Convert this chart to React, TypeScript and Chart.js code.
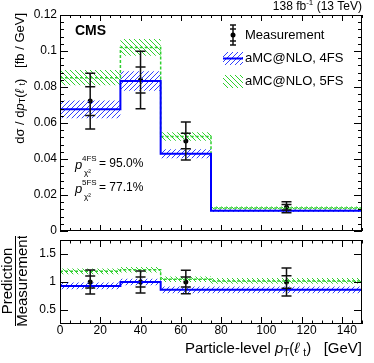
import React, { useEffect, useRef } from "react";
import { Chart, registerables } from "chart.js";

Chart.register(...registerables);

// ---------------- data ----------------
const binEdges = [0, 30, 50, 75, 150];
const binCenters = [15, 40, 62.5, 112.5];

const measValues = [0.0722, 0.0839, 0.05, 0.0132];
const measTotErr = [0.0155, 0.016, 0.0105, 0.003];
const measStatErr = [0.008, 0.0072, 0.0043, 0.0015];

const pred4FS = [0.0676, 0.0833, 0.0429, 0.0113];
const unc4FS = [0.0049, 0.0054, 0.0025, 0.0008];
const pred5FS = [0.0852, 0.102, 0.0525, 0.0128];
const unc5FS = [0.0042, 0.0047, 0.0024, 0.0008];

const ratioMeas = [1, 1, 1, 1];
const ratioTotErr = [0.215, 0.195, 0.21, 0.25];
const ratioStatErr = [0.105, 0.09, 0.09, 0.11];
const ratio4FS = [0.93, 1.0, 0.86, 0.86];
const ratioUnc4FS = [0.06, 0.06, 0.06, 0.06];
const ratio5FS = [1.19, 1.22, 1.05, 1.02];
const ratioUnc5FS = [0.05, 0.05, 0.05, 0.05];

const xTicks = [0, 20, 40, 60, 80, 100, 120, 140];
const xTickLabels = ["0", "20", "40", "60", "80", "100", "120", "140"];
const topYTicks = [0, 0.02, 0.04, 0.06, 0.08, 0.1, 0.12];
const topYTickLabels = ["0", "0.02", "0.04", "0.06", "0.08", "0.1", "0.12"];
const ratioYTicks = [0.5, 1, 1.5];
const ratioYTickLabels = ["0.5", "1", "1.5"];

const legendLabels = ["Measurement", "aMC@NLO, 4FS", "aMC@NLO, 5FS"];
const chi2Sups = ["4FS", "5FS"];
const chi2Values = ["= 95.0%", "= 77.1%"];

// ---------------- helpers ----------------
const FONT = "'Liberation Sans', Arial, Helvetica, sans-serif";
const fnt = (size: number, style = "") => `${style} ${size}px ${FONT}`.trim();

type Run = { t: string; f: string; dy?: number };

function runsWidth(ctx: CanvasRenderingContext2D, runs: Run[]) {
  let w = 0;
  for (const r of runs) {
    ctx.font = r.f;
    w += ctx.measureText(r.t).width;
  }
  return w;
}
function drawRuns(ctx: CanvasRenderingContext2D, runs: Run[], x: number, y: number) {
  let cx = x;
  ctx.textAlign = "left";
  ctx.textBaseline = "middle";
  for (const r of runs) {
    ctx.font = r.f;
    ctx.fillText(r.t, cx, y + (r.dy || 0));
    cx += ctx.measureText(r.t).width;
  }
}

function stepPoints(values: number[]) {
  return binEdges.map((x, i) => ({ x, y: values[Math.min(i, values.length - 1)] }));
}
function shifted(values: number[], unc: number[], sign: number) {
  return values.map((v, i) => v + sign * unc[i]);
}

function makeHatch(color: string, dir: number) {
  const s = 5;
  const c = document.createElement("canvas");
  c.width = s;
  c.height = s;
  const g = c.getContext("2d")!;
  g.strokeStyle = color;
  g.lineWidth = 1;
  g.beginPath();
  if (dir > 0) {
    g.moveTo(-1, s + 1); g.lineTo(s + 1, -1);
    g.moveTo(-1, 1); g.lineTo(1, -1);
    g.moveTo(s - 1, s + 1); g.lineTo(s + 1, s - 1);
  } else {
    g.moveTo(-1, -1); g.lineTo(s + 1, s + 1);
    g.moveTo(-1, s - 1); g.lineTo(1, s + 1);
    g.moveTo(s - 1, -1); g.lineTo(s + 1, 1);
  }
  g.stroke();
  return g.createPattern(c, "repeat")!;
}

const BLUE = "#0000ff";
const GREEN = "#2fcf2f";

function drawFrameAndTicks(
  chart: any,
  o: {
    yTicks: number[];
    yMinorStep: number;
    yMin: number;
    yMax: number;
    yMajorLen: number;
    yMinorLen: number;
    xMajorLen: number;
    xMinorLen: number;
  }
) {
  const { ctx, chartArea: a, scales } = chart;
  const xs = scales.x;
  const ys = scales.y;
  ctx.save();
  ctx.strokeStyle = "#000";
  ctx.lineWidth = 1;
  ctx.strokeRect(a.left + 0.5, a.top + 0.5, a.right - a.left - 1, a.bottom - a.top - 1);
  ctx.beginPath();
  for (let v = 0; v <= 150 + 1e-9; v += 5) {
    const px = Math.round(xs.getPixelForValue(v)) + 0.5;
    const major = xTicks.some((t) => Math.abs(t - v) < 1e-6);
    const len = major ? o.xMajorLen : o.xMinorLen;
    ctx.moveTo(px, a.bottom);
    ctx.lineTo(px, a.bottom - len);
    ctx.moveTo(px, a.top);
    ctx.lineTo(px, a.top + len);
  }
  for (let v = o.yMin; v <= o.yMax + 1e-9; v += o.yMinorStep) {
    const py = Math.round(ys.getPixelForValue(v)) + 0.5;
    const major = o.yTicks.some((t) => Math.abs(t - v) < 1e-6);
    const len = major ? o.yMajorLen : o.yMinorLen;
    ctx.moveTo(a.left, py);
    ctx.lineTo(a.left + len, py);
    ctx.moveTo(a.right, py);
    ctx.lineTo(a.right - len, py);
  }
  ctx.stroke();
  ctx.restore();
}

function drawErrorBars(chart: any, vals: number[], tot: number[], stat: number[]) {
  const { ctx, scales } = chart;
  const xs = scales.x;
  const ys = scales.y;
  ctx.save();
  ctx.strokeStyle = "#111";
  ctx.lineWidth = 1.5;
  ctx.beginPath();
  binCenters.forEach((c, i) => {
    const px = xs.getPixelForValue(c);
    const yHi = ys.getPixelForValue(vals[i] + tot[i]);
    const yLo = ys.getPixelForValue(vals[i] - tot[i]);
    const sHi = ys.getPixelForValue(vals[i] + stat[i]);
    const sLo = ys.getPixelForValue(vals[i] - stat[i]);
    ctx.moveTo(px, yHi);
    ctx.lineTo(px, yLo);
    for (const yy of [yHi, yLo, sHi, sLo]) {
      ctx.moveTo(px - 5, yy);
      ctx.lineTo(px + 5, yy);
    }
  });
  ctx.stroke();
  ctx.restore();
}

function histDatasets(
  values4: number[], u4: number[], values5: number[], u5: number[],
  pat4: CanvasPattern, pat5: CanvasPattern
) {
  const none = "rgba(0,0,0,0)";
  return [
    {
      label: "4FS",
      data: stepPoints(values4),
      stepped: true,
      borderColor: BLUE,
      borderWidth: 2,
      pointRadius: 0,
      fill: false,
    },
    {
      label: "5FS",
      data: stepPoints(values5),
      stepped: true,
      borderColor: GREEN,
      borderWidth: 1.5,
      borderDash: [3, 2],
      pointRadius: 0,
      fill: false,
    },
    {
      label: "4FS up",
      data: stepPoints(shifted(values4, u4, 1)),
      stepped: true,
      borderColor: none,
      borderWidth: 0,
      pointRadius: 0,
      fill: "+1",
      backgroundColor: pat4,
    },
    {
      label: "4FS down",
      data: stepPoints(shifted(values4, u4, -1)),
      stepped: true,
      borderColor: none,
      borderWidth: 0,
      pointRadius: 0,
      fill: false,
    },
    {
      label: "5FS up",
      data: stepPoints(shifted(values5, u5, 1)),
      stepped: true,
      borderColor: none,
      borderWidth: 0,
      pointRadius: 0,
      fill: "+1",
      backgroundColor: pat5,
    },
    {
      label: "5FS down",
      data: stepPoints(shifted(values5, u5, -1)),
      stepped: true,
      borderColor: none,
      borderWidth: 0,
      pointRadius: 0,
      fill: false,
    },
  ];
}

function hiddenAxis(min: number, max: number) {
  return {
    type: "linear" as const,
    min,
    max,
    ticks: { display: false },
    grid: { display: false, drawTicks: false },
    border: { display: false },
    title: { display: false },
  };
}

export default function App() {
  const topRef = useRef<HTMLCanvasElement>(null);
  const botRef = useRef<HTMLCanvasElement>(null);

  useEffect(() => {
    const pat4 = makeHatch("#3040ff", 1);
    const pat5 = makeHatch("#30d030", -1);

    const topPlugin = {
      id: "topDeco",
      afterDatasetsDraw(chart: any) {
        drawErrorBars(chart, measValues, measTotErr, measStatErr);
      },
      afterDraw(chart: any) {
        const ctx: CanvasRenderingContext2D = chart.ctx;
        const ys = chart.scales.y;
        drawFrameAndTicks(chart, {
          yTicks: topYTicks, yMinorStep: 0.004, yMin: 0, yMax: 0.12,
          yMajorLen: 8, yMinorLen: 4, xMajorLen: 6, xMinorLen: 3,
        });
        ctx.save();
        ctx.fillStyle = "#000";
        // y tick labels
        ctx.font = fnt(12);
        ctx.textAlign = "right";
        ctx.textBaseline = "middle";
        topYTicks.forEach((v, i) => ctx.fillText(topYTickLabels[i], 57, ys.getPixelForValue(v)));
        // lumi label
        const lumi: Run[] = [
          { t: "138 fb", f: fnt(12) },
          { t: "-1", f: fnt(8), dy: -4 },
          { t: " (13 TeV)", f: fnt(12) },
        ];
        drawRuns(ctx, lumi, 362 - runsWidth(ctx, lumi), 7);
        // CMS
        ctx.font = fnt(14, "bold");
        ctx.textAlign = "left";
        ctx.textBaseline = "middle";
        ctx.fillText("CMS", 75, 31);
        // chi2 probabilities
        const chiY = [164, 188];
        chiY.forEach((y, i) => {
          ctx.textAlign = "left";
          ctx.textBaseline = "middle";
          ctx.font = fnt(13, "italic");
          ctx.fillText("p", 75, y + 1);
          ctx.font = fnt(8);
          ctx.fillText(chi2Sups[i], 82, y - 5);
          ctx.fillText("\u03c7\u00b2", 84, y + 9);
          ctx.font = fnt(12);
          ctx.fillText(chi2Values[i], 99, y);
        });
        // legend
        ctx.strokeStyle = "#111";
        ctx.lineWidth = 1.5;
        ctx.beginPath();
        ctx.moveTo(233, 25); ctx.lineTo(233, 45);
        for (const yy of [25, 29, 41, 45]) { ctx.moveTo(230, yy); ctx.lineTo(236, yy); }
        ctx.stroke();
        ctx.fillStyle = "#000";
        ctx.beginPath();
        ctx.arc(233, 35, 2.5, 0, Math.PI * 2);
        ctx.fill();
        ctx.fillStyle = pat4;
        ctx.fillRect(223, 52, 20, 13);
        ctx.strokeStyle = BLUE;
        ctx.lineWidth = 2;
        ctx.beginPath();
        ctx.moveTo(223, 58.5); ctx.lineTo(243, 58.5);
        ctx.stroke();
        ctx.fillStyle = pat5;
        ctx.fillRect(223, 75, 20, 13);
        ctx.fillStyle = "#000";
        ctx.font = fnt(13);
        ctx.textAlign = "left";
        ctx.textBaseline = "middle";
        ctx.fillText(legendLabels[0], 245, 35);
        ctx.fillText(legendLabels[1], 245, 58);
        ctx.fillText(legendLabels[2], 245, 81);
        // y title (rotated)
        const yt: Run[] = [
          { t: "d\u03c3 / d", f: fnt(13) },
          { t: "p", f: fnt(13, "italic") },
          { t: "T", f: fnt(9), dy: 3 },
          { t: "(", f: fnt(13) },
          { t: "\u2113", f: fnt(13, "italic") },
          { t: " ", f: fnt(13) },
          { t: "t", f: fnt(9), dy: 3 },
          { t: ")", f: fnt(13) },
          { t: "   [fb / GeV]", f: fnt(13) },
        ];
        ctx.translate(20, 13);
        ctx.rotate(-Math.PI / 2);
        drawRuns(ctx, yt, -runsWidth(ctx, yt), 0);
        ctx.restore();
      },
    };

    const botPlugin = {
      id: "botDeco",
      afterDatasetsDraw(chart: any) {
        drawErrorBars(chart, ratioMeas, ratioTotErr, ratioStatErr);
      },
      afterDraw(chart: any) {
        const ctx: CanvasRenderingContext2D = chart.ctx;
        const xs = chart.scales.x;
        const ys = chart.scales.y;
        drawFrameAndTicks(chart, {
          yTicks: ratioYTicks, yMinorStep: 0.5, yMin: 0.5, yMax: 1.5,
          yMajorLen: 8, yMinorLen: 4, xMajorLen: 7, xMinorLen: 3.5,
        });
        ctx.save();
        ctx.fillStyle = "#000";
        ctx.font = fnt(12);
        ctx.textAlign = "right";
        ctx.textBaseline = "middle";
        ratioYTicks.forEach((v, i) => ctx.fillText(ratioYTickLabels[i], 56, ys.getPixelForValue(v)));
        ctx.textAlign = "center";
        xTicks.forEach((v, i) => {
          const lab = xTickLabels[i];
          const off = lab.length > 2 ? 5 : 0;
          ctx.fillText(lab, xs.getPixelForValue(v) + off, 95);
        });
        // x title
        const xt: Run[] = [
          { t: "Particle-level ", f: fnt(15) },
          { t: "p", f: fnt(15, "italic") },
          { t: "T", f: fnt(10), dy: 4 },
          { t: "(", f: fnt(15) },
          { t: "\u2113", f: fnt(15, "italic") },
          { t: " ", f: fnt(15) },
          { t: "t", f: fnt(10), dy: 4 },
          { t: ")", f: fnt(15) },
          { t: "   [GeV]", f: fnt(15) },
        ];
        drawRuns(ctx, xt, 362 - runsWidth(ctx, xt), 113);
        // y title fraction
        ctx.translate(0, 45);
        ctx.rotate(-Math.PI / 2);
        ctx.font = fnt(15);
        ctx.textAlign = "center";
        ctx.textBaseline = "middle";
        ctx.fillText("Prediction", 0, 8);
        ctx.fillText("Measurement", 0, 23);
        ctx.strokeStyle = "#000";
        ctx.lineWidth = 1;
        ctx.beginPath();
        ctx.moveTo(-45, 15.5);
        ctx.lineTo(45, 15.5);
        ctx.stroke();
        ctx.restore();
      },
    };

    const c1 = new Chart(topRef.current!, {
      type: "line",
      data: {
        datasets: [
          ...histDatasets(pred4FS, unc4FS, pred5FS, unc5FS, pat4, pat5),
          {
            label: "Measurement",
            data: binCenters.map((x, i) => ({ x, y: measValues[i] })),
            showLine: false,
            pointRadius: 2.5,
            pointBackgroundColor: "#000",
            pointBorderColor: "#000",
            borderWidth: 0,
          },
        ] as any,
      },
      options: {
        animation: false,
        responsive: false,
        events: [],
        layout: { padding: { left: 60, right: 12, top: 15, bottom: 5 } },
        plugins: { legend: { display: false }, tooltip: { enabled: false } },
        scales: { x: hiddenAxis(0, 150), y: hiddenAxis(0, 0.12) },
      },
      plugins: [topPlugin],
    });

    const c2 = new Chart(botRef.current!, {
      type: "line",
      data: {
        datasets: [
          ...histDatasets(ratio4FS, ratioUnc4FS, ratio5FS, ratioUnc5FS, pat4, pat5),
          {
            label: "Measurement",
            data: binCenters.map((x, i) => ({ x, y: ratioMeas[i] })),
            showLine: false,
            pointRadius: 2.5,
            pointBackgroundColor: "#000",
            pointBorderColor: "#000",
            borderWidth: 0,
          },
        ] as any,
      },
      options: {
        animation: false,
        responsive: false,
        events: [],
        layout: { padding: { left: 60, right: 12, top: 2, bottom: 39 } },
        plugins: { legend: { display: false }, tooltip: { enabled: false } },
        scales: { x: hiddenAxis(0, 150), y: hiddenAxis(0.25, 1.75) },
      },
      plugins: [botPlugin],
    });

    return () => {
      c1.destroy();
      c2.destroy();
    };
  }, []);

  return (
    <div style={{ position: "absolute", left: 0, top: 0, width: 374, height: 363, background: "#fff" }}>
      <canvas ref={topRef} width={374} height={236} style={{ position: "absolute", left: 0, top: 0 }} />
      <canvas ref={botRef} width={374} height={127} style={{ position: "absolute", left: 0, top: 236 }} />
    </div>
  );
}
